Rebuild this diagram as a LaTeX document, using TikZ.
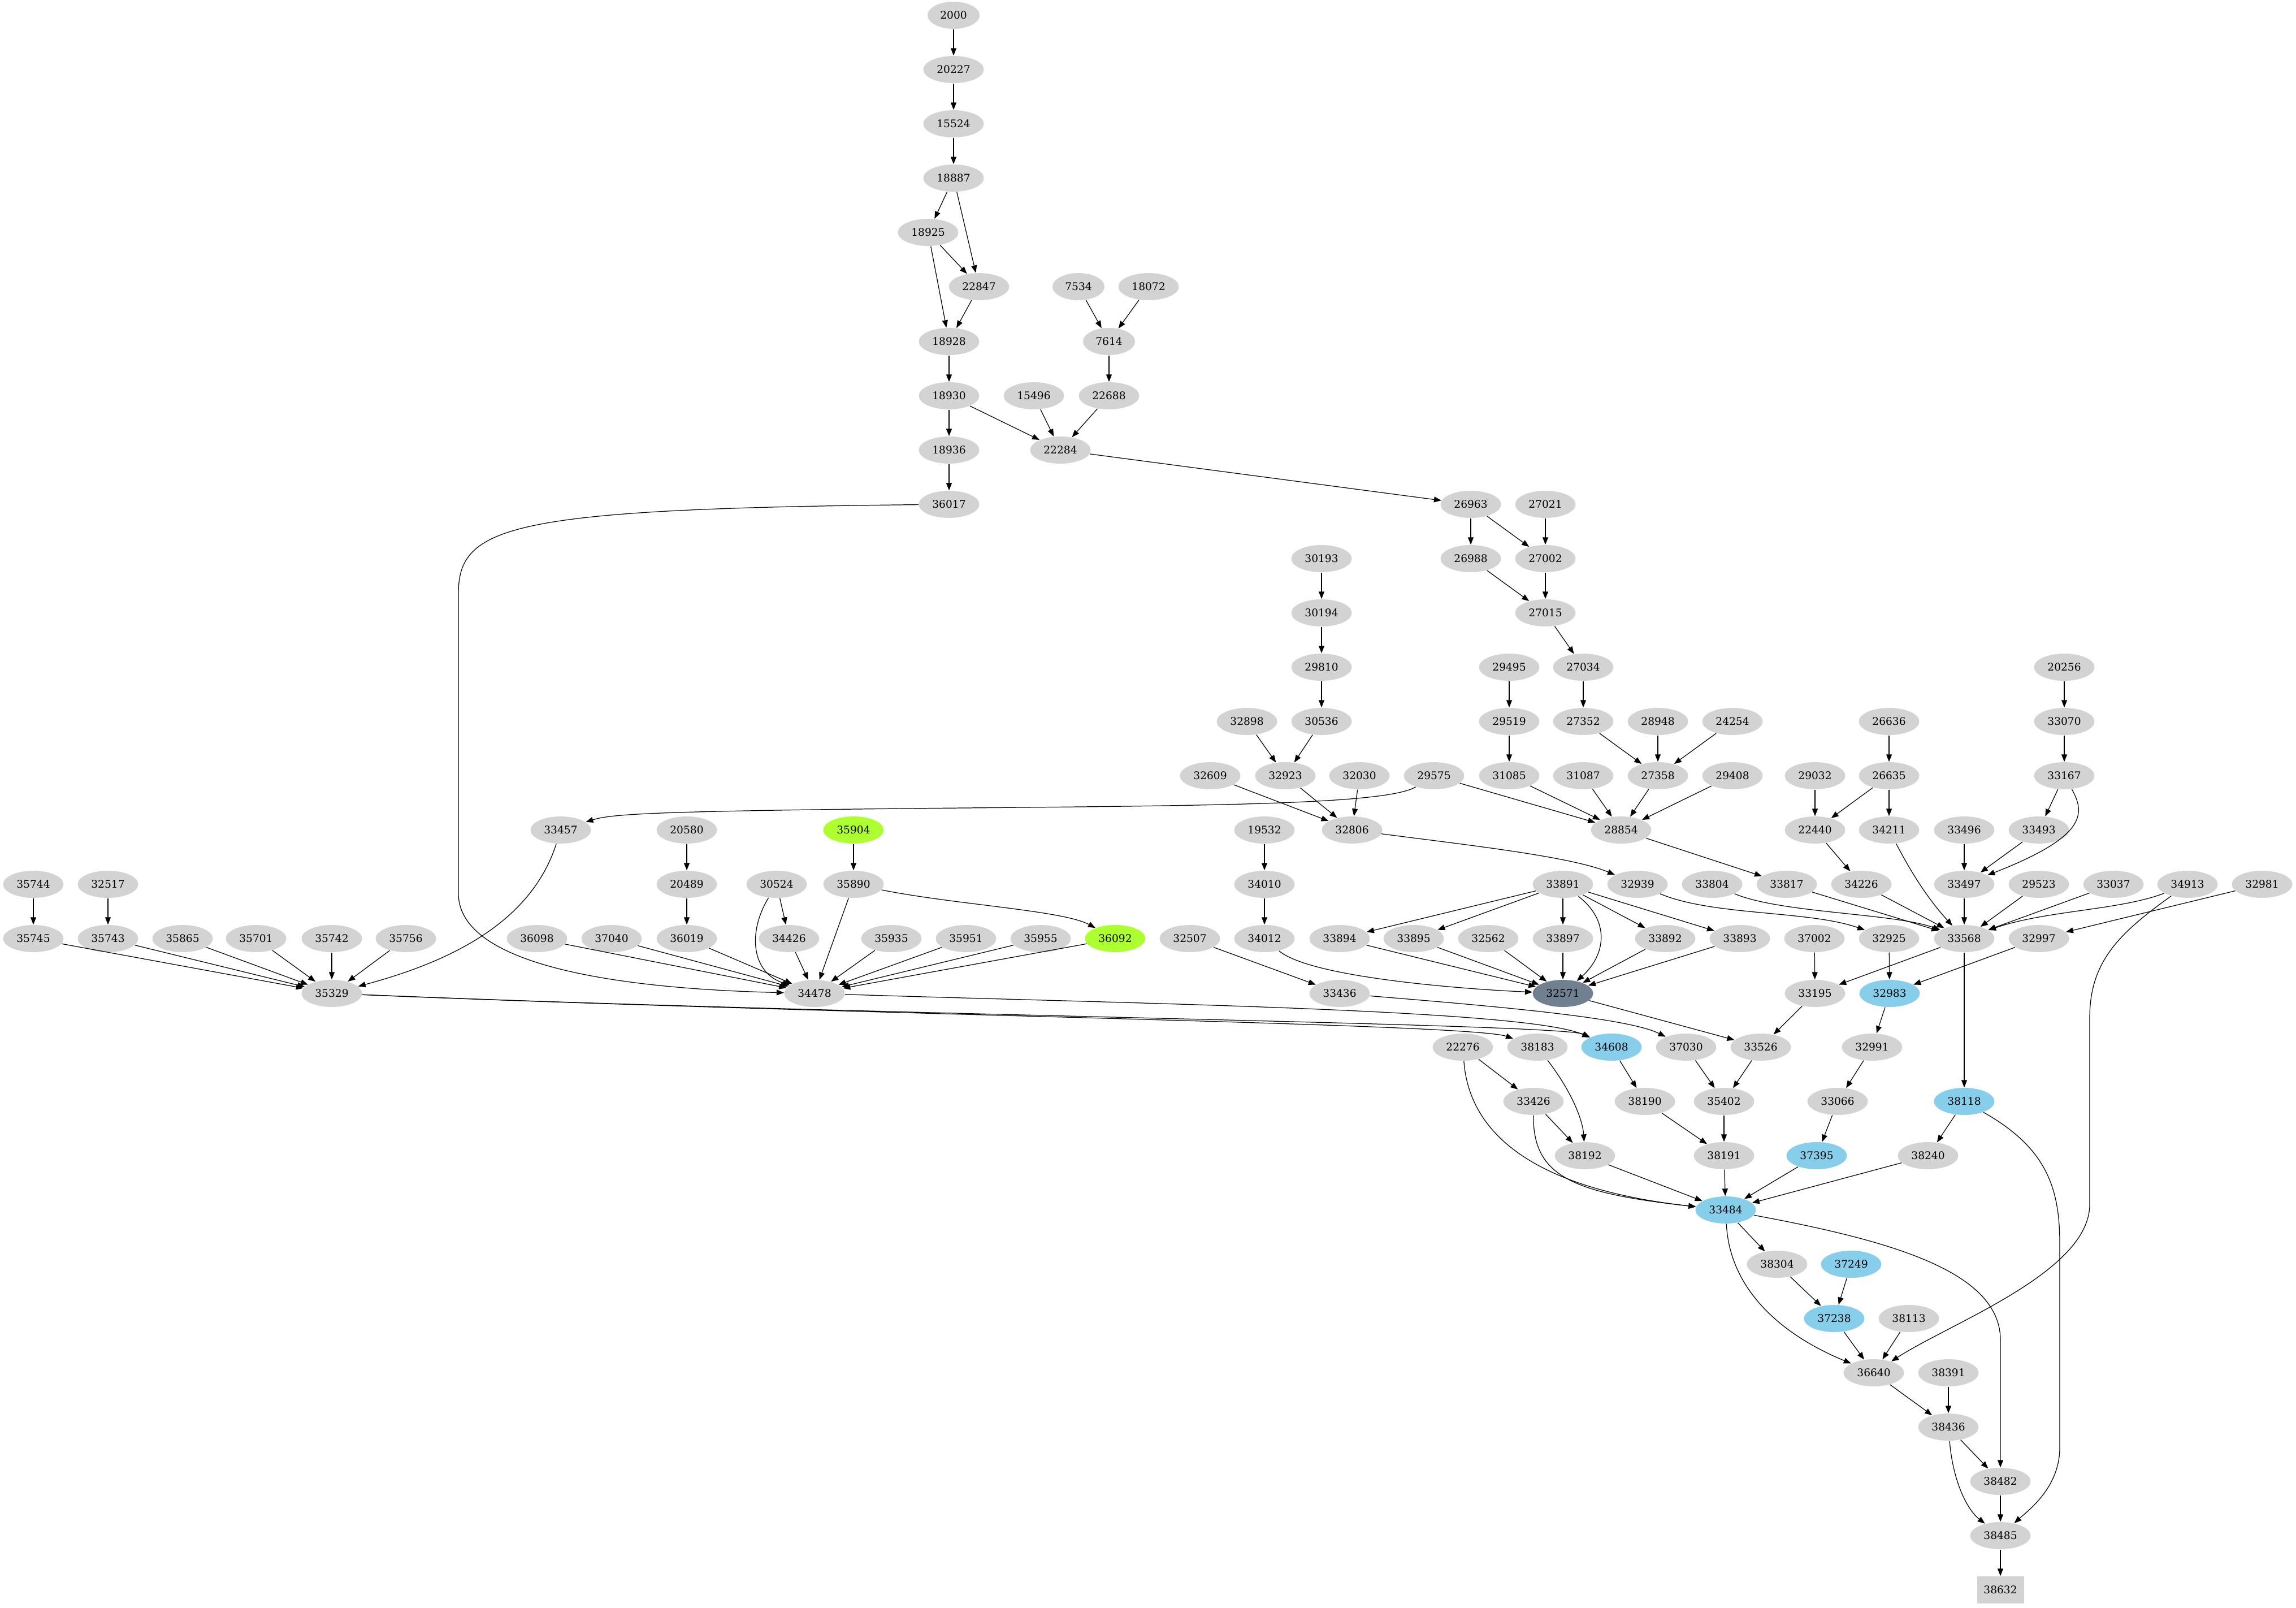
\documentclass[tikz,border=0pt]{standalone}
\usepackage{fontspec}
\newfontfamily\gvfont{DejaVu Serif}
\usepackage{tikz}
\usetikzlibrary{shapes.geometric}
\usetikzlibrary{arrows.meta}
\definecolor{gvgray}{RGB}{211,211,211}
\definecolor{gvsky}{RGB}{135,206,235}
\definecolor{gvlime}{RGB}{173,255,47}
\definecolor{gvslate}{RGB}{112,128,144}

\begin{document}
\begin{tikzpicture}[
  gv/.style={ellipse,fill=gvgray,inner sep=0pt,minimum width=1.07cm,minimum height=0.48cm,font=\gvfont\fontsize{5.3}{6}\selectfont},
  gvs/.style={gv,minimum width=0.92cm},
  sky/.style={gv,fill=gvsky},
  lime/.style={gv,fill=gvlime},
  slate/.style={gv,fill=gvslate},
  sink/.style={rectangle,fill=gvgray,inner sep=0pt,minimum width=0.83cm,minimum height=0.48cm,font=\gvfont\fontsize{5.3}{6}\selectfont},
  arr/.style={-{Triangle[length=0.13cm,width=0.1cm]},line width=0.35pt}]
\useasboundingbox (0,0) rectangle (40.62,-28.43);
\path (16.87,-0.27) node(n2000)[gvs]{2000}
(16.87,-1.23) node(n20227)[gv]{20227}
(16.87,-2.19) node(n15524)[gv]{15524}
(16.87,-3.15) node(n18887)[gv]{18887}
(16.42,-4.11) node(n18925)[gv]{18925}
(17.32,-5.07) node(n22847)[gv]{22847}
(19.08,-5.07) node(n7534)[gvs]{7534}
(20.32,-5.07) node(n18072)[gv]{18072}
(16.79,-6.04) node(n18928)[gv]{18928}
(19.62,-6.04) node(n7614)[gvs]{7614}
(16.79,-7.00) node(n18930)[gv]{18930}
(18.29,-7.00) node(n15496)[gv]{15496}
(19.62,-7.00) node(n22688)[gv]{22688}
(16.79,-7.96) node(n18936)[gv]{18936}
(18.76,-7.96) node(n22284)[gv]{22284}
(16.79,-8.92) node(n36017)[gv]{36017}
(26.02,-8.92) node(n26963)[gv]{26963}
(27.34,-8.92) node(n27021)[gv]{27021}
(23.38,-9.88) node(n30193)[gv]{30193}
(26.02,-9.88) node(n26988)[gv]{26988}
(27.34,-9.88) node(n27002)[gv]{27002}
(23.38,-10.84) node(n30194)[gv]{30194}
(27.34,-10.84) node(n27015)[gv]{27015}
(23.38,-11.80) node(n29810)[gv]{29810}
(26.70,-11.80) node(n29495)[gv]{29495}
(28.01,-11.80) node(n27034)[gv]{27034}
(36.52,-11.80) node(n20256)[gv]{20256}
(22.06,-12.76) node(n32898)[gv]{32898}
(23.38,-12.76) node(n30536)[gv]{30536}
(26.70,-12.76) node(n29519)[gv]{29519}
(28.01,-12.76) node(n27352)[gv]{27352}
(29.33,-12.76) node(n28948)[gv]{28948}
(30.65,-12.76) node(n24254)[gv]{24254}
(33.42,-12.76) node(n26636)[gv]{26636}
(36.52,-12.76) node(n33070)[gv]{33070}
(21.41,-13.72) node(n32609)[gv]{32609}
(22.74,-13.72) node(n32923)[gv]{32923}
(24.05,-13.72) node(n32030)[gv]{32030}
(25.37,-13.72) node(n29575)[gv]{29575}
(26.70,-13.72) node(n31085)[gv]{31085}
(28.01,-13.72) node(n31087)[gv]{31087}
(29.33,-13.72) node(n27358)[gv]{27358}
(30.65,-13.72) node(n29408)[gv]{29408}
(32.11,-13.72) node(n29032)[gv]{29032}
(33.42,-13.72) node(n26635)[gv]{26635}
(36.52,-13.72) node(n33167)[gv]{33167}
(9.92,-14.68) node(n33457)[gv]{33457}
(12.15,-14.68) node(n20580)[gv]{20580}
(15.10,-14.68) node(n35904)[lime]{35904}
(22.37,-14.68) node(n19532)[gv]{19532}
(23.92,-14.68) node(n32806)[gv]{32806}
(28.68,-14.68) node(n28854)[gv]{28854}
(32.11,-14.68) node(n22440)[gv]{22440}
(33.42,-14.68) node(n34211)[gv]{34211}
(34.75,-14.68) node(n33496)[gv]{33496}
(36.07,-14.68) node(n33493)[gv]{33493}
(0.59,-15.64) node(n35744)[gv]{35744}
(1.91,-15.64) node(n32517)[gv]{32517}
(12.15,-15.64) node(n20489)[gv]{20489}
(13.74,-15.64) node(n30524)[gv]{30524}
(15.10,-15.64) node(n35890)[gv]{35890}
(22.37,-15.64) node(n34010)[gv]{34010}
(27.65,-15.64) node(n33891)[gv]{33891}
(28.97,-15.64) node(n32939)[gv]{32939}
(30.29,-15.64) node(n33804)[gv]{33804}
(31.61,-15.64) node(n33817)[gv]{33817}
(32.93,-15.64) node(n34226)[gv]{34226}
(34.75,-15.64) node(n33497)[gv]{33497}
(36.07,-15.64) node(n29523)[gv]{29523}
(37.39,-15.64) node(n33037)[gv]{33037}
(38.70,-15.64) node(n34913)[gv]{34913}
(40.02,-15.64) node(n32981)[gv]{32981}
(0.59,-16.60) node(n35745)[gv]{35745}
(1.91,-16.60) node(n35743)[gv]{35743}
(3.23,-16.60) node(n35865)[gv]{35865}
(4.53,-16.60) node(n35701)[gv]{35701}
(5.87,-16.60) node(n35742)[gv]{35742}
(7.18,-16.60) node(n35756)[gv]{35756}
(9.50,-16.60) node(n36098)[gv]{36098}
(10.82,-16.60) node(n37040)[gv]{37040}
(12.15,-16.60) node(n36019)[gv]{36019}
(13.96,-16.60) node(n34426)[gv]{34426}
(15.77,-16.60) node(n35935)[gv]{35935}
(17.09,-16.60) node(n35951)[gv]{35951}
(18.41,-16.60) node(n35955)[gv]{35955}
(19.73,-16.60) node(n36092)[lime]{36092}
(21.05,-16.60) node(n32507)[gv]{32507}
(22.37,-16.60) node(n34012)[gv]{34012}
(23.70,-16.60) node(n33894)[gv]{33894}
(25.01,-16.60) node(n33895)[gv]{33895}
(26.33,-16.60) node(n32562)[gv]{32562}
(27.65,-16.60) node(n33897)[gv]{33897}
(29.46,-16.60) node(n33892)[gv]{33892}
(30.78,-16.60) node(n33893)[gv]{33893}
(32.10,-16.60) node(n37002)[gv]{37002}
(33.42,-16.60) node(n32925)[gv]{32925}
(34.75,-16.60) node(n33568)[gv]{33568}
(36.07,-16.60) node(n32997)[gv]{32997}
(5.87,-17.57) node(n35329)[gv]{35329}
(14.41,-17.57) node(n34478)[gv]{34478}
(23.70,-17.57) node(n33436)[gv]{33436}
(27.65,-17.57) node(n32571)[slate]{32571}
(32.11,-17.57) node(n33195)[gv]{33195}
(33.43,-17.57) node(n32983)[sky]{32983}
(25.88,-18.52) node(n22276)[gv]{22276}
(27.20,-18.52) node(n38183)[gv]{38183}
(28.51,-18.52) node(n34608)[sky]{34608}
(29.83,-18.52) node(n37030)[gv]{37030}
(31.15,-18.52) node(n33526)[gv]{33526}
(33.12,-18.52) node(n32991)[gv]{32991}
(27.13,-19.48) node(n33426)[gv]{33426}
(29.10,-19.48) node(n38190)[gv]{38190}
(30.50,-19.48) node(n35402)[gv]{35402}
(32.51,-19.48) node(n33066)[gv]{33066}
(34.75,-19.48) node(n38118)[sky]{38118}
(28.04,-20.44) node(n38192)[gv]{38192}
(30.50,-20.44) node(n38191)[gv]{38191}
(32.14,-20.44) node(n37395)[sky]{37395}
(34.11,-20.44) node(n38240)[gv]{38240}
(30.53,-21.40) node(n33484)[sky]{33484}
(31.44,-22.36) node(n38304)[gv]{38304}
(32.75,-22.36) node(n37249)[sky]{37249}
(32.45,-23.32) node(n37238)[sky]{37238}
(33.77,-23.32) node(n38113)[gv]{38113}
(33.15,-24.28) node(n36640)[gv]{36640}
(34.47,-24.28) node(n38391)[gv]{38391}
(34.47,-25.24) node(n38436)[gv]{38436}
(35.39,-26.20) node(n38482)[gv]{38482}
(35.39,-27.16) node(n38485)[gv]{38485}
(35.39,-28.12) node(n38632)[sink]{38632};
% top chain
\draw[arr] (n2000) -- (n20227);
\draw[arr] (n20227) -- (n15524);
\draw[arr] (n15524) -- (n18887);
\draw[arr] (n18887) -- (n18925);
\draw[arr] (n18887) -- (n22847);
\draw[arr] (n18925) -- (n22847);
\draw[arr] (n18925) -- (n18928);
\draw[arr] (n22847) -- (n18928);
\draw[arr] (n7534) -- (n7614);
\draw[arr] (n18072) -- (n7614);
\draw[arr] (n18928) -- (n18930);
\draw[arr] (n7614) -- (n22688);
\draw[arr] (n18930) -- (n18936);
\draw[arr] (n18930) -- (n22284);
\draw[arr] (n15496) -- (n22284);
\draw[arr] (n22688) -- (n22284);
\draw[arr] (n18936) -- (n36017);
\draw[arr] (n22284) -- (n26963);
\draw[arr] (n36017) .. controls (9.0,-9.0) and (8.11,-9.3) .. (8.11,-10.5) -- (8.11,-15.8) .. controls (8.11,-17.2) and (11.5,-17.5) .. (n34478);
\draw[arr] (n26963) -- (n26988);
\draw[arr] (n26963) -- (n27002);
\draw[arr] (n27021) -- (n27002);
\draw[arr] (n26988) -- (n27015);
\draw[arr] (n27002) -- (n27015);
\draw[arr] (n27015) -- (n27034);
\draw[arr] (n27034) -- (n27352);
\draw[arr] (n27352) -- (n27358);
\draw[arr] (n28948) -- (n27358);
\draw[arr] (n24254) -- (n27358);
\draw[arr] (n29495) -- (n29519);
\draw[arr] (n29519) -- (n31085);
\draw[arr] (n31085) -- (n28854);
\draw[arr] (n31087) -- (n28854);
\draw[arr] (n27358) -- (n28854);
\draw[arr] (n29408) -- (n28854);
\draw[arr] (n29575) -- (n28854);
\draw[arr] (n29575) .. controls (24.5,-14.25) and (21.0,-14.25) .. (16.0,-14.3) .. controls (11.5,-14.35) and (10.8,-14.4) .. (n33457);
\draw[arr] (n30193) -- (n30194);
\draw[arr] (n30194) -- (n29810);
\draw[arr] (n29810) -- (n30536);
\draw[arr] (n30536) -- (n32923);
\draw[arr] (n32898) -- (n32923);
\draw[arr] (n32923) -- (n32806);
\draw[arr] (n32609) -- (n32806);
\draw[arr] (n32030) -- (n32806);
\draw[arr] (n32806) .. controls (26.0,-14.95) and (27.8,-15.15) .. (n32939);
\draw[arr] (n28854) -- (n33817);
\draw[arr] (n19532) -- (n34010);
\draw[arr] (n34010) -- (n34012);
\draw[arr] (n34012) .. controls (23.2,-17.3) and (26.0,-17.5) .. (n32571);
% 32571 fan
\draw[arr] (n33891) -- (n33894);
\draw[arr] (n33891) -- (n33895);
\draw[arr] (n33891) -- (n33897);
\draw[arr] (n33891) -- (n33892);
\draw[arr] (n33891) -- (n33893);
\draw[arr] (n33891) .. controls (28.5,-16.3) and (28.4,-16.9) .. (n32571);
\draw[arr] (n33894) -- (n32571);
\draw[arr] (n33895) -- (n32571);
\draw[arr] (n32562) -- (n32571);
\draw[arr] (n33897) -- (n32571);
\draw[arr] (n33892) -- (n32571);
\draw[arr] (n33893) -- (n32571);
\draw[arr] (n32507) -- (n33436);
\draw[arr] (n33436) .. controls (26.5,-17.8) and (28.8,-18.0) .. (n37030);
\draw[arr] (n32571) -- (n33526);
\draw[arr] (n37002) -- (n33195);
\draw[arr] (n33195) -- (n33526);
% 33568 fan
\draw[arr] (n32939) .. controls (30.3,-16.2) and (32.0,-16.1) .. (n32925);
\draw[arr] (n33804) .. controls (31.5,-16.15) and (33.5,-16.15) .. (n33568);
\draw[arr] (n33817) -- (n33568);
\draw[arr] (n34226) -- (n33568);
\draw[arr] (n34211) .. controls (33.9,-15.6) and (34.2,-16.0) .. (n33568);
\draw[arr] (n33497) -- (n33568);
\draw[arr] (n29523) -- (n33568);
\draw[arr] (n33037) -- (n33568);
\draw[arr] (n34913) .. controls (37.5,-16.1) and (36.2,-16.1) .. (n33568);
\draw[arr] (n32981) -- (n32997);
\draw[arr] (n22440) -- (n34226);
\draw[arr] (n29032) -- (n22440);
\draw[arr] (n26635) -- (n22440);
\draw[arr] (n26635) -- (n34211);
\draw[arr] (n26636) -- (n26635);
\draw[arr] (n20256) -- (n33070);
\draw[arr] (n33070) -- (n33167);
\draw[arr] (n33167) -- (n33493);
\draw[arr] (n33167) .. controls (36.9,-14.4) and (36.9,-14.8) .. (n33497);
\draw[arr] (n33493) -- (n33497);
\draw[arr] (n33496) -- (n33497);
\draw[arr] (n33568) -- (n33195);
\draw[arr] (n32925) -- (n32983);
\draw[arr] (n32997) -- (n32983);
\draw[arr] (n33568) -- (n38118);
\draw[arr] (n32983) -- (n32991);
\draw[arr] (n32991) -- (n33066);
\draw[arr] (n33066) -- (n37395);
\draw[arr] (n38118) -- (n38240);
\draw[arr] (n34913) .. controls (37.5,-16.5) and (36.97,-17.0) .. (36.97,-18.0) -- (36.97,-21.3) .. controls (36.97,-22.5) and (34.5,-23.4) .. (n36640);
\draw[arr] (n38118) .. controls (36.2,-20.3) and (36.44,-21.0) .. (36.44,-22.0) -- (36.44,-25.6) .. controls (36.44,-26.3) and (35.9,-26.7) .. (n38485);
% left fans
\draw[arr] (n35744) -- (n35745);
\draw[arr] (n32517) -- (n35743);
\draw[arr] (n35745) -- (n35329);
\draw[arr] (n35743) -- (n35329);
\draw[arr] (n35865) -- (n35329);
\draw[arr] (n35701) -- (n35329);
\draw[arr] (n35742) -- (n35329);
\draw[arr] (n35756) -- (n35329);
\draw[arr] (n33457) .. controls (9.4,-16.3) and (8.0,-17.0) .. (n35329);
\draw[arr] (n20580) -- (n20489);
\draw[arr] (n20489) -- (n36019);
\draw[arr] (n35904) -- (n35890);
\draw[arr] (n35890) -- (n34478);
\draw[arr] (n35890) .. controls (16.9,-16.0) and (18.8,-16.1) .. (n36092);
\draw[arr] (n30524) -- (n34426);
\draw[arr] (n30524) .. controls (13.22,-16.5) and (13.3,-17.2) .. (n34478);
\draw[arr] (n36098) -- (n34478);
\draw[arr] (n37040) -- (n34478);
\draw[arr] (n36019) -- (n34478);
\draw[arr] (n34426) -- (n34478);
\draw[arr] (n35935) -- (n34478);
\draw[arr] (n35951) -- (n34478);
\draw[arr] (n35955) -- (n34478);
\draw[arr] (n36092) -- (n34478);
\draw[arr] (n35329) .. controls (15.0,-17.95) and (26.0,-18.1) .. (n38183);
\draw[arr] (n35329) .. controls (15.0,-17.95) and (27.6,-18.1) .. (n34608);
\draw[arr] (n34478) .. controls (20.0,-17.75) and (27.0,-17.85) .. (n34608);
% lower part
\draw[arr] (n22276) -- (n33426);
\draw[arr] (n22276) .. controls (25.98,-19.9) and (26.9,-21.0) .. (n33484);
\draw[arr] (n38183) .. controls (27.8,-19.3) and (28.0,-19.8) .. (n38192);
\draw[arr] (n33426) -- (n38192);
\draw[arr] (n33426) .. controls (27.12,-20.8) and (27.8,-21.1) .. (n33484);
\draw[arr] (n34608) -- (n38190);
\draw[arr] (n38190) -- (n38191);
\draw[arr] (n37030) -- (n35402);
\draw[arr] (n33526) -- (n35402);
\draw[arr] (n35402) -- (n38191);
\draw[arr] (n38192) -- (n33484);
\draw[arr] (n38191) -- (n33484);
\draw[arr] (n37395) -- (n33484);
\draw[arr] (n38240) -- (n33484);
\draw[arr] (n33484) -- (n38304);
\draw[arr] (n33484) .. controls (30.6,-22.8) and (31.5,-23.6) .. (n36640);
\draw[arr] (n33484) .. controls (33.5,-21.95) and (35.39,-22.5) .. (35.39,-23.7) -- (n38482);
\draw[arr] (n38304) -- (n37238);
\draw[arr] (n37249) -- (n37238);
\draw[arr] (n37238) -- (n36640);
\draw[arr] (n38113) -- (n36640);
\draw[arr] (n36640) -- (n38436);
\draw[arr] (n38391) -- (n38436);
\draw[arr] (n38436) -- (n38482);
\draw[arr] (n38436) .. controls (34.55,-26.2) and (34.8,-26.7) .. (n38485);
\draw[arr] (n38482) -- (n38485);
\draw[arr] (n38485) -- (n38632);
\end{tikzpicture}
\end{document}
